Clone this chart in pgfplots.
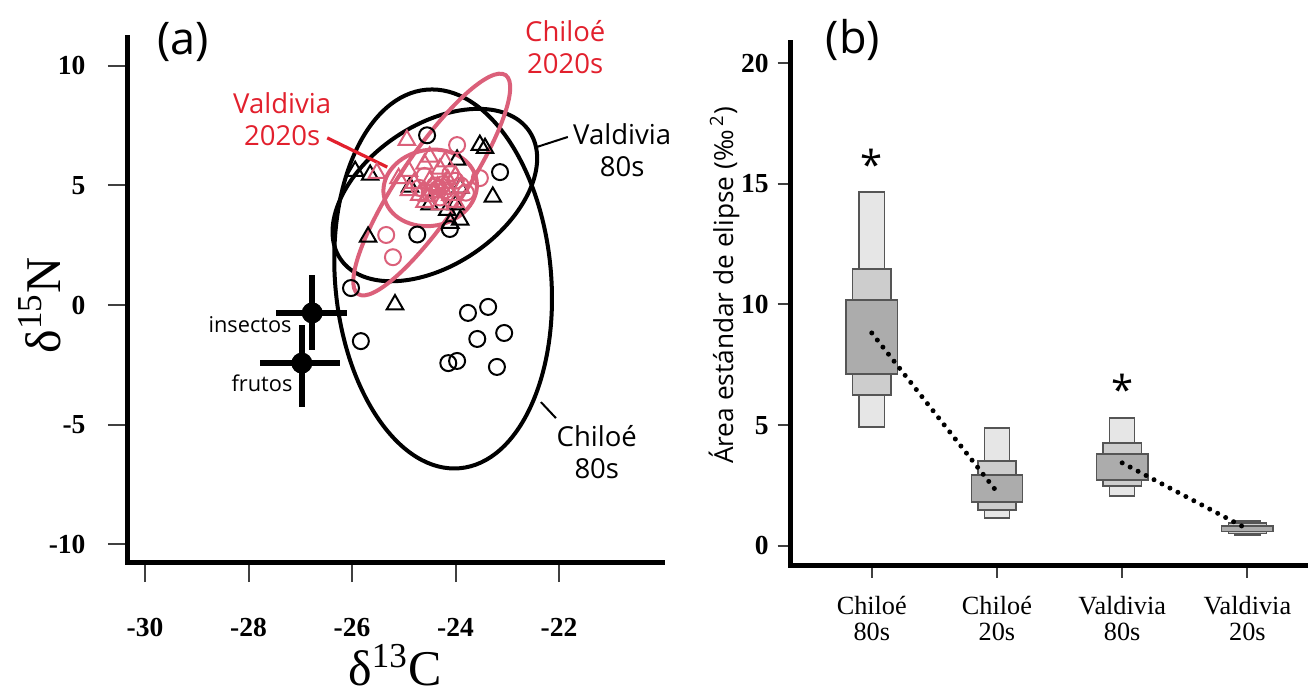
\documentclass[border=0pt]{standalone}
\usepackage{pgfplots}
\pgfplotsset{compat=1.18}
\usepackage{fontspec}
\setmainfont{Liberation Serif}
\newfontfamily\sansf{Open Sans}

\definecolor{pinkc}{RGB}{219,96,122}
\definecolor{redt}{RGB}{226,32,45}
\definecolor{boxlight}{RGB}{230,230,230}
\definecolor{boxmid}{RGB}{205,205,205}
\definecolor{boxdark}{RGB}{172,172,172}
\definecolor{boxedge}{RGB}{85,85,85}

\pgfplotsset{
  lt/.style={draw=boxedge, line width=0.6pt, fill=boxlight},
  md/.style={draw=boxedge, line width=0.6pt, fill=boxmid},
  dk/.style={draw=boxedge, line width=0.6pt, fill=boxdark},
}

\begin{document}
\begin{tikzpicture}
\useasboundingbox (0,0) rectangle (523.2pt,279.2pt);

% ---------------- panel (a)
\begin{axis}[
  at={(51.2pt,54.4pt)}, anchor=south west,
  scale only axis, width=213.6pt, height=209.6pt,
  xmin=-30.33, xmax=-20.01, ymin=-10.75, ymax=11.17,
  axis x line=bottom, axis y line=left,
  axis line style={-, line width=2pt, line cap=rect},
  xtick={-30,-28,-26,-24,-22}, xticklabels={-30,-28,-26,-24,-22},
  ytick={-10,-5,0,5,10}, yticklabels={-10,-5,0,5,10},
  tick align=outside, major tick length=8pt,
  tick style={line width=0.8pt, color=black!75},
  ticklabel style={font=\fontsize{11}{13}\selectfont\bfseries},
  xticklabel style={yshift=-11pt},
  yticklabel style={xshift=-5.5pt},
  xlabel={δ\textsuperscript{13}C}, ylabel={δ\textsuperscript{15}N},
  label style={font=\fontsize{20}{24}\selectfont},
  xlabel style={at={(rel axis cs:0.5,-0.197)}, anchor=center},
  ylabel style={at={(rel axis cs:-0.165,0.49)}, anchor=center},
  clip=false,
]
% SEA ellipses, 80s
\draw[line width=1.6pt, rotate around={5:(axis cs:-24.24,1.09)}]
  (axis cs:-24.24,1.09) ellipse [x radius=43.2pt, y radius=76pt];
\draw[line width=1.6pt, rotate around={34:(axis cs:-24.40,4.60)}]
  (axis cs:-24.40,4.60) ellipse [x radius=45.6pt, y radius=28pt];

% Chiloe 80s (circles)
\addplot[only marks, mark=o, mark size=3.2pt, line width=0.8pt] coordinates {
  (-24.55,7.10) (-23.14,5.56) (-24.74,2.95) (-24.11,3.18)
  (-26.02,0.71) (-25.83,-1.51) (-23.76,-0.33) (-23.37,-0.08)
  (-23.58,-1.42) (-23.06,-1.17) (-24.14,-2.43) (-23.97,-2.34) (-23.20,-2.59)
};
% Valdivia 80s (triangles)
\addplot[only marks, mark=triangle, mark size=3.8pt, line width=0.8pt] coordinates {
  (-25.94,5.60) (-25.65,5.44) (-23.53,6.69) (-23.43,6.56) (-23.28,4.52)
  (-25.69,2.85) (-23.97,6.07) (-23.91,3.56) (-24.88,4.94) (-24.16,3.97)
  (-23.91,4.90) (-24.10,3.43) (-25.17,0.02) (-24.50,4.20) (-24.00,4.20)
};
% Valdivia 2020s (pink triangles)
\addplot[only marks, mark=triangle, mark size=3.8pt, line width=0.8pt, color=pinkc] coordinates {
  (-24.90,5.60) (-24.60,5.90) (-24.30,5.70) (-24.00,5.40) (-24.80,5.10)
  (-24.50,5.20) (-24.20,5.10) (-23.90,4.90) (-24.70,4.60) (-24.40,4.70)
  (-24.10,4.60) (-24.60,4.30) (-24.30,4.20) (-24.00,4.30) (-24.90,4.80)
  (-25.10,5.30) (-24.50,6.20) (-24.20,6.00) (-24.94,6.90) (-25.52,5.52)
  (-24.35,4.95) (-24.25,4.85) (-24.45,5.00) (-24.15,5.25) (-24.55,4.55)
};
% Chiloe 2020s (pink circles)
\addplot[only marks, mark=o, mark size=3.2pt, line width=0.8pt, color=pinkc] coordinates {
  (-23.97,6.69) (-23.53,5.31) (-25.34,2.93) (-25.21,2.00)
  (-24.40,5.00) (-24.20,4.80) (-24.00,5.20) (-24.60,5.40) (-24.30,4.50)
  (-23.80,4.70) (-24.50,4.70) (-24.10,5.50) (-24.70,4.90) (-23.90,5.00)
  (-24.25,5.05) (-24.35,4.85)
};
% SEA ellipses, 2020s
\draw[pinkc, line width=1.6pt, rotate around={56:(axis cs:-24.46,5.04)}]
  (axis cs:-24.46,5.04) ellipse [x radius=52.8pt, y radius=12.8pt];
\draw[pinkc, line width=1.6pt, rotate around={10:(axis cs:-24.49,4.90)}]
  (axis cs:-24.49,4.90) ellipse [x radius=18.8pt, y radius=15.2pt];

% food sources
\addplot[only marks, mark=*, mark size=4pt, black,
  error bars/.cd, x dir=both, x explicit, y dir=both, y explicit,
  error mark=none, error bar style={line width=2.4pt}] coordinates {
  (-26.77,-0.33) += (0.67,1.59) -= (0.70,1.55)
  (-26.97,-2.43) += (0.74,1.59) -= (0.81,1.84)
};

% labels
\node[font=\sansf\fontsize{18}{20}\selectfont] at (axis cs:-29.27,11.0) {(a)};
\node[font=\sansf\fontsize{11}{12.8}\selectfont, text=redt, align=center] at (axis cs:-21.88,10.78) {Chiloé\\2020s};
\node[font=\sansf\fontsize{11}{12.8}\selectfont, text=redt, align=center] at (axis cs:-27.35,7.78) {Valdivia\\2020s};
\draw[redt, line width=1.3pt] (axis cs:-26.48,6.99) -- (axis cs:-25.32,5.77);
\node[font=\sansf\fontsize{11}{12.8}\selectfont, align=center] at (axis cs:-20.78,6.49) {Valdivia\\80s};
\draw[line width=0.8pt] (axis cs:-22.43,6.61) -- (axis cs:-21.83,7.03);
\node[font=\sansf\fontsize{11}{12.8}\selectfont, align=center] at (axis cs:-21.27,-6.15) {Chiloé\\80s};
\draw[line width=0.8pt] (axis cs:-22.35,-4.06) -- (axis cs:-22.06,-4.73);
\node[font=\sansf\fontsize{8.7}{10}\selectfont] at (axis cs:-27.97,-0.84) {insectos};
\node[font=\sansf\fontsize{8.7}{10}\selectfont] at (axis cs:-27.74,-3.26) {frutos};
\end{axis}

% ---------------- panel (b)
\begin{axis}[
  at={(316pt,53.2pt)}, anchor=south west,
  scale only axis, width=206pt, height=208.8pt,
  xmin=0.347, xmax=4.46, ymin=-0.79, ymax=20.83,
  axis x line=bottom, axis y line=left,
  axis line style={-, line width=2pt, line cap=rect},
  xtick={1,2,3,4},
  xticklabels={{Chiloé\\80s},{Chiloé\\20s},{Valdivia\\80s},{Valdivia\\20s}},
  ytick={0,5,10,15,20}, yticklabels={0,5,10,15,20},
  tick align=outside, major tick length=5pt,
  tick style={line width=0.8pt, color=black!75},
  xticklabel style={align=center, font=\fontsize{10.5}{10.5}\selectfont, yshift=-4pt},
  yticklabel style={font=\fontsize{11}{13}\selectfont\bfseries},
  ylabel={Área estándar de elipse (‰\,\textsuperscript{2})},
  ylabel style={font=\sansf\fontsize{10.5}{12}\selectfont, at={(rel axis cs:-0.128,0.536)}, anchor=center},
  clip=false,
]
% 95% credible intervals
\addplot[lt] coordinates {(0.9,4.93) (1.1,4.93) (1.1,14.66) (0.9,14.66)} -- cycle;
\addplot[lt] coordinates {(1.9,1.16) (2.1,1.16) (2.1,4.89) (1.9,4.89)} -- cycle;
\addplot[lt] coordinates {(2.9,2.07) (3.1,2.07) (3.1,5.30) (2.9,5.30)} -- cycle;
\addplot[lt] coordinates {(3.9,0.45) (4.1,0.45) (4.1,1.04) (3.9,1.04)} -- cycle;
% 75%
\addplot[md] coordinates {(0.847,6.25) (1.153,6.25) (1.153,11.47) (0.847,11.47)} -- cycle;
\addplot[md] coordinates {(1.847,1.49) (2.153,1.49) (2.153,3.52) (1.847,3.52)} -- cycle;
\addplot[md] coordinates {(2.847,2.48) (3.153,2.48) (3.153,4.26) (2.847,4.26)} -- cycle;
\addplot[md] coordinates {(3.847,0.52) (4.153,0.52) (4.153,0.95) (3.847,0.95)} -- cycle;
% 50%
\addplot[dk] coordinates {(0.795,7.12) (1.205,7.12) (1.205,10.19) (0.795,10.19)} -- cycle;
\addplot[dk] coordinates {(1.795,1.82) (2.205,1.82) (2.205,2.94) (1.795,2.94)} -- cycle;
\addplot[dk] coordinates {(2.795,2.73) (3.205,2.73) (3.205,3.81) (2.795,3.81)} -- cycle;
\addplot[dk] coordinates {(3.795,0.60) (4.205,0.60) (4.205,0.82) (3.795,0.82)} -- cycle;
% modes joined
\addplot[line width=2pt, line cap=round, dash pattern=on 0pt off 3.6pt] coordinates {(1,8.82) (2,2.24)};
\addplot[line width=2pt, line cap=round, dash pattern=on 0pt off 3.6pt] coordinates {(3,3.44) (4,0.70)};
% significance
\addplot[only marks, mark=none, nodes near coords={*},
  every node near coord/.style={font=\sansf\fontsize{16}{16}\selectfont, anchor=center, yshift=-3pt}]
  coordinates {(1,16.1) (3,6.8)};
\node[font=\sansf\fontsize{18}{20}\selectfont] at (axis cs:0.85,20.95) {(b)};
\end{axis}
\end{tikzpicture}
\end{document}
